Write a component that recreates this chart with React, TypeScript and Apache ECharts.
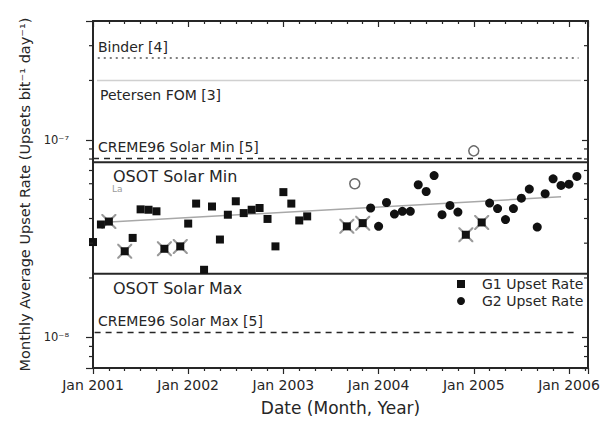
import React, { useEffect, useRef } from 'react';
import * as echarts from 'echarts';

const FONT = '"DejaVu Sans", sans-serif';
const INK = '#262626';

// G1 upset rate (squares), monthly
const g1Months = [
  '2001-01', '2001-02', '2001-03', '2001-05', '2001-06', '2001-07', '2001-08', '2001-09', '2001-10', '2001-12',
  '2002-01', '2002-02', '2002-03', '2002-04', '2002-05', '2002-06', '2002-07', '2002-08', '2002-09', '2002-10',
  '2002-11', '2002-12', '2003-01', '2003-02', '2003-03', '2003-04', '2003-09', '2003-11', '2004-12', '2005-02',
];
const g1Values = [
  3.04e-8, 3.73e-8, 3.86e-8, 2.73e-8, 3.19e-8, 4.45e-8, 4.43e-8, 4.35e-8, 2.81e-8, 2.89e-8,
  3.77e-8, 4.76e-8, 2.2e-8, 4.6e-8, 3.13e-8, 4.18e-8, 4.89e-8, 4.26e-8, 4.43e-8, 4.52e-8,
  3.98e-8, 2.89e-8, 5.44e-8, 4.76e-8, 3.91e-8, 4.1e-8, 3.65e-8, 3.79e-8, 3.31e-8, 3.82e-8,
];

// G2 upset rate (circles), monthly
const g2Months = [
  '2003-12', '2004-01', '2004-02', '2004-03', '2004-04', '2004-05', '2004-06', '2004-07', '2004-08', '2004-09',
  '2004-10', '2004-11', '2005-03', '2005-04', '2005-05', '2005-06', '2005-07', '2005-08', '2005-09', '2005-10',
  '2005-11', '2005-12', '2006-01', '2006-02',
];
const g2Values = [
  4.52e-8, 3.65e-8, 4.82e-8, 4.21e-8, 4.35e-8, 4.35e-8, 5.93e-8, 5.48e-8, 6.6e-8, 4.18e-8,
  4.66e-8, 4.31e-8, 4.79e-8, 4.49e-8, 3.95e-8, 4.49e-8, 5.07e-8, 5.64e-8, 3.62e-8, 5.34e-8,
  6.35e-8, 5.88e-8, 5.97e-8, 6.53e-8,
];

// open circles
const openMonths = ['2003-10', '2005-01'];
const openValues = [6.0e-8, 8.8e-8];

// G1 months flagged with a cross
const crossedMonths = ['2001-03', '2001-05', '2001-10', '2001-12', '2003-09', '2003-11', '2004-12', '2005-02'];

// trend fit
const trendMonths = ['2001-02', '2005-12'];
const trendValues = [3.82e-8, 5.15e-8];

// reference levels (month index extent from Jan 2001)
const refNames = ['Binder [4]', 'Petersen FOM [3]', 'CREME96 Solar Min [5]', 'OSOT Solar Min', 'OSOT Solar Max', 'CREME96 Solar Max [5]'];
const refValues = [2.6e-7, 2.0e-7, 8.05e-8, 7.7e-8, 2.1e-8, 1.06e-8];
const refStart = [0.6, 0.5, 0, 0, 0, 0.2];
const refEnd = [61.2, 61.5, 61.6, 62.4, 62.4, 61.0];

const xTickLabels = ['Jan 2001', 'Jan 2002', 'Jan 2003', 'Jan 2004', 'Jan 2005', 'Jan 2006'];
const yMinorTicks = [8e-9, 9e-9, 2e-8, 3e-8, 4e-8, 5e-8, 6e-8, 7e-8, 8e-8, 9e-8, 2e-7, 3e-7];

const X_MIN = 0;
const X_MAX = 62.4;
const Y_MIN = 7e-9;
const Y_MAX = 4e-7;

const monthIndex = (s: string) => {
  const [y, m] = s.split('-').map(Number);
  return (y - 2001) * 12 + (m - 1);
};

const SUP: Record<string, string> = { '-': '\u207B', '0': '\u2070', '1': '\u00B9', '2': '\u00B2', '3': '\u00B3', '4': '\u2074', '5': '\u2075', '6': '\u2076', '7': '\u2077', '8': '\u2078', '9': '\u2079' };
const sup = (n: number) => String(n).split('').map((c) => SUP[c] || c).join('');

const refStyles = [
  { color: '#555', width: 1.5, type: [2, 4] },
  { color: '#d0d0d0', width: 1.5, type: 'solid' },
  { color: INK, width: 1.5, type: [6, 5] },
  { color: INK, width: 2, type: 'solid' },
  { color: INK, width: 2, type: 'solid' },
  { color: INK, width: 1.5, type: [6, 5] },
];

const CROSS = 'path://M0,0L1.6,0L8,6.4L14.4,0L16,0L16,1.6L9.6,8L16,14.4L16,16L14.4,16L8,9.6L1.6,16L0,16L0,14.4L6.4,8L0,1.6Z';

export default function App() {
  const ref = useRef<HTMLDivElement>(null);
  useEffect(() => {
    if (!ref.current) return;
    const chart = echarts.init(ref.current, undefined, { renderer: 'svg' });

    const g1Data = g1Months.map((m, i) => [monthIndex(m), g1Values[i]]);
    const g2Data = g2Months.map((m, i) => [monthIndex(m), g2Values[i]]);
    const openData = openMonths.map((m, i) => [monthIndex(m), openValues[i]]);
    const crossData = crossedMonths.map((m) => [monthIndex(m), g1Values[g1Months.indexOf(m)]]);
    const trendData = trendMonths.map((m, i) => [monthIndex(m), trendValues[i]]);

    const xCommon = {
      type: 'value',
      min: X_MIN,
      max: X_MAX,
      interval: 12,
      splitLine: { show: false },
      axisLine: { show: true, onZero: false, lineStyle: { color: INK, width: 2 } },
      minorTick: { show: true, splitNumber: 6, length: 3, lineStyle: { color: INK, width: 1.2 } },
      minorSplitLine: { show: false },
    };
    const yCommon = {
      type: 'log',
      logBase: 10,
      min: Y_MIN,
      max: Y_MAX,
      splitLine: { show: false },
      axisLine: { show: true, onZero: false, lineStyle: { color: INK, width: 2 } },
    };

    const refSeries = refNames.map((name, i) => ({
      type: 'line',
      name: 'ref-' + name,
      data: [[refStart[i], refValues[i]], [refEnd[i], refValues[i]]],
      symbol: 'none',
      silent: true,
      z: 1,
      lineStyle: { color: refStyles[i].color, width: refStyles[i].width, type: refStyles[i].type as any },
    }));

    const labelStyle = (size: number, color = INK) => ({ fontFamily: FONT, fontSize: size, fill: color, verticalAlign: 'middle', align: 'left' });

    chart.setOption({
      animation: false,
      grid: { left: 93, right: 22, top: 21, bottom: 50, containLabel: false },
      xAxis: [
        {
          ...xCommon,
          position: 'bottom',
          name: 'Date (Month, Year)',
          nameLocation: 'middle',
          nameGap: 31,
          nameTextStyle: { fontFamily: FONT, fontSize: 17, color: INK },
          axisTick: { show: true, inside: false, length: 6, lineStyle: { color: INK, width: 1.2 } },
          axisLabel: {
            margin: 10,
            fontFamily: FONT,
            fontSize: 14,
            color: INK,
            formatter: (v: number) => (Math.abs(v % 12) < 1e-6 ? xTickLabels[Math.round(v / 12)] || '' : ''),
          },
        },
        {
          ...xCommon,
          position: 'top',
          axisTick: { show: true, inside: true, length: 6, lineStyle: { color: INK, width: 1.2 } },
          axisLabel: { show: false },
        },
      ],
      yAxis: [
        {
          ...yCommon,
          position: 'left',
          name: 'Monthly Average Upset Rate (Upsets bit\u207B\u00B9 day\u207B\u00B9)',
          nameLocation: 'middle',
          nameGap: 56,
          nameTextStyle: { fontFamily: FONT, fontSize: 14.5, color: INK },
          axisTick: { show: true, inside: false, length: 7, lineStyle: { color: INK, width: 1.2 } },
          axisLabel: {
            margin: 24,
            fontFamily: FONT,
            fontSize: 11.5,
            color: INK,
            formatter: (v: number) => {
              const e = Math.log10(v);
              const r = Math.round(e);
              return Math.abs(e - r) < 1e-6 ? '10' + sup(r) : '';
            },
          },
        },
        {
          ...yCommon,
          position: 'right',
          axisTick: { show: true, inside: true, length: 6, lineStyle: { color: INK, width: 1.2 } },
          axisLabel: { show: false },
        },
      ],
      legend: {
        orient: 'vertical',
        left: 457,
        top: 277,
        padding: 0,
        itemWidth: 8,
        itemHeight: 8,
        itemGap: 3,
        data: ['G1 Upset Rate', 'G2 Upset Rate'],
        textStyle: { fontFamily: FONT, fontSize: 14, color: INK, padding: [0, 0, 0, 12] },
      },
      graphic: [
        { type: 'text', x: 98, y: 47, silent: true, style: { text: refNames[0], ...labelStyle(14) } },
        { type: 'text', x: 100, y: 95, silent: true, style: { text: refNames[1], ...labelStyle(14) } },
        { type: 'text', x: 98, y: 147, silent: true, style: { text: refNames[2], ...labelStyle(14) } },
        { type: 'text', x: 113, y: 176, silent: true, style: { text: refNames[3], ...labelStyle(16) } },
        { type: 'text', x: 112, y: 189, silent: true, style: { text: 'La', ...labelStyle(9, '#9a9a9a') } },
        { type: 'text', x: 113, y: 288, silent: true, style: { text: refNames[4], ...labelStyle(16) } },
        { type: 'text', x: 98, y: 321, silent: true, style: { text: refNames[5], ...labelStyle(14) } },
      ],
      series: [
        ...refSeries,
        {
          type: 'line',
          name: 'trend',
          data: trendData,
          symbol: 'none',
          silent: true,
          z: 2,
          lineStyle: { color: '#a8a8a8', width: 1.5 },
        },
        {
          type: 'scatter',
          name: 'cross',
          data: crossData,
          symbol: CROSS,
          symbolSize: 15,
          z: 3,
          itemStyle: { color: '#9a9a9a', opacity: 1 },
        },
        {
          type: 'scatter',
          name: 'G1 Upset Rate',
          data: g1Data,
          symbol: 'rect',
          symbolSize: 8,
          z: 4,
          itemStyle: { color: '#111', opacity: 1 },
        },
        {
          type: 'scatter',
          name: 'G2 Upset Rate',
          data: g2Data,
          symbol: 'circle',
          symbolSize: 9,
          z: 4,
          itemStyle: { color: '#111', opacity: 1 },
        },
        {
          type: 'scatter',
          name: 'open',
          data: openData,
          symbol: 'circle',
          symbolSize: 10,
          z: 4,
          itemStyle: { color: '#fff', borderColor: '#6a6a6a', borderWidth: 1.5, opacity: 1 },
        },
        {
          type: 'custom',
          name: 'yMinorTicks',
          silent: true,
          clip: false,
          z: 5,
          data: yMinorTicks.map((v) => [X_MIN, v]),
          renderItem: (params: any, api: any) => {
            const p = api.coord([X_MIN, api.value(1)]);
            const cs = params.coordSys;
            const st = { stroke: INK, lineWidth: 1.2 };
            return {
              type: 'group',
              children: [
                { type: 'line', shape: { x1: cs.x - 4, y1: p[1], x2: cs.x, y2: p[1] }, style: st },
                { type: 'line', shape: { x1: cs.x + cs.width - 4, y1: p[1], x2: cs.x + cs.width, y2: p[1] }, style: st },
              ],
            };
          },
        },
      ],
    });

    return () => chart.dispose();
  }, []);

  return <div ref={ref} style={{ position: 'fixed', left: 0, top: 0, width: 610, height: 421, background: '#fff' }} />;
}
